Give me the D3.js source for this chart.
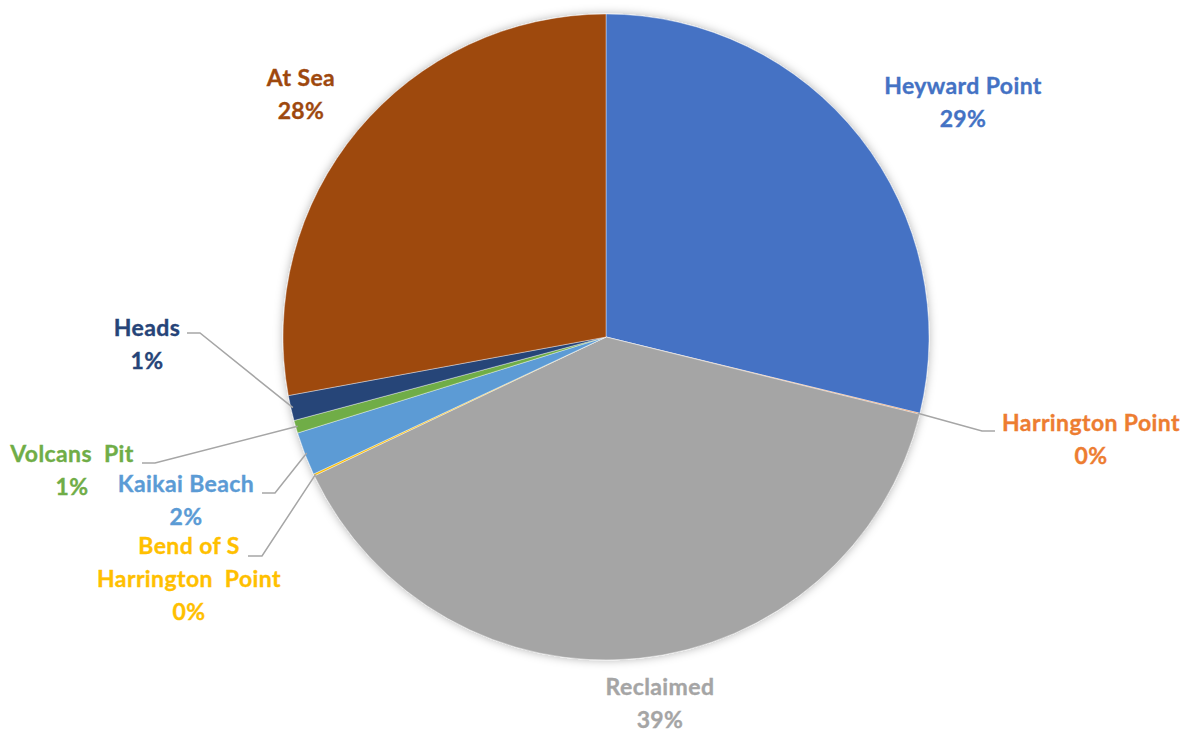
<!DOCTYPE html>
<html>
<head>
<meta charset="utf-8">
<script src="https://cdn.jsdelivr.net/npm/d3@7"></script>
<style>
  html, body { margin: 0; padding: 0; background: #fff; }
  svg { display: block; }
  text { font-family: Lato, "Open Sans", sans-serif; font-weight: 700; }
</style>
</head>
<body>
<svg id="chart" width="1199" height="733"></svg>
<script>
// Share of records by location
const locations = ["Heyward Point", "Harrington Point", "Reclaimed", "Bend of S\nHarrington  Point",
                   "Kaikai Beach", "Volcans  Pit", "Heads", "At Sea"];
const counts = [287.9, 0.5, 390.8, 1.0, 21.7, 6.4, 12.6, 279.0];
const colors = ["#4472C4", "#ED7D31", "#A5A5A5", "#FFC000", "#5B9BD5", "#70AD47", "#264478", "#9E480E"];

// Label block centres (first line) and leader-line elbows, in page pixels
const labelPos = [
  [963, 85], [1091, 422], [660, 686], [189, 545],
  [186, 483], [72, 453], [147, 327], [301, 77]
];
const leaderElbow = [
  null, [[995, 431], [982, 431]], null, [[248, 556], [262, 556]],
  [[262, 493], [275, 493]], [[142, 463], [155, 463]], [[187, 333], [200, 333]], null
];

const width = 1199, height = 733;
const cx = 606, cy = 337, radius = 323;
const lineH = 33;

const svg = d3.select("#chart");
const defs = svg.append("defs");
const shadow = defs.append("filter").attr("id", "pieShadow")
  .attr("x", "-10%").attr("y", "-10%").attr("width", "120%").attr("height", "120%");
shadow.append("feDropShadow").attr("dx", 0).attr("dy", 0).attr("stdDeviation", 5)
  .attr("flood-color", "#000").attr("flood-opacity", 0.3);

const data = locations.map((name, i) => ({ name, value: counts[i], color: colors[i], i }));
const total = d3.sum(counts);

const pie = d3.pie().value(d => d.value).sort(null);
const arcs = pie(data);
const arc = d3.arc().innerRadius(0).outerRadius(radius);
const edgeArc = d3.arc().innerRadius(radius - 2).outerRadius(radius - 2);

const g = svg.append("g").attr("transform", `translate(${cx},${cy})`);

g.append("g").attr("filter", "url(#pieShadow)")
  .selectAll("path").data(arcs).join("path")
  .attr("d", arc)
  .attr("fill", d => d.data.color)
  .attr("stroke", "#fff").attr("stroke-width", 0.4);

// Leader lines from slice edges to labels
const leaders = svg.append("g").attr("fill", "none").attr("stroke", "#A6A6A6").attr("stroke-width", 1.5);
arcs.forEach(a => {
  const el = leaderElbow[a.data.i];
  if (!el) return;
  const [ex, ey] = edgeArc.centroid(a);
  const pts = [el[0], el[1], [cx + ex, cy + ey]];
  leaders.append("path").attr("d", d3.line()(pts));
});

// Labels: category name then rounded percentage
const labels = svg.append("g").attr("font-size", 23).attr("letter-spacing", 0.4)
  .attr("text-anchor", "middle");
arcs.forEach(a => {
  const [x, y] = labelPos[a.data.i];
  const lines = a.data.name.split("\n");
  lines.push(d3.format(".0%")(a.data.value / total));
  const t = labels.append("text").attr("fill", a.data.color)
    .attr("stroke", a.data.color).attr("stroke-width", 0.35)
    .attr("x", x).attr("y", y)
    .attr("dominant-baseline", "central");
  lines.forEach((s, k) => {
    t.append("tspan").attr("x", x).attr("y", y + k * lineH).attr("xml:space", "preserve").text(s);
  });
});
</script>
</body>
</html>
